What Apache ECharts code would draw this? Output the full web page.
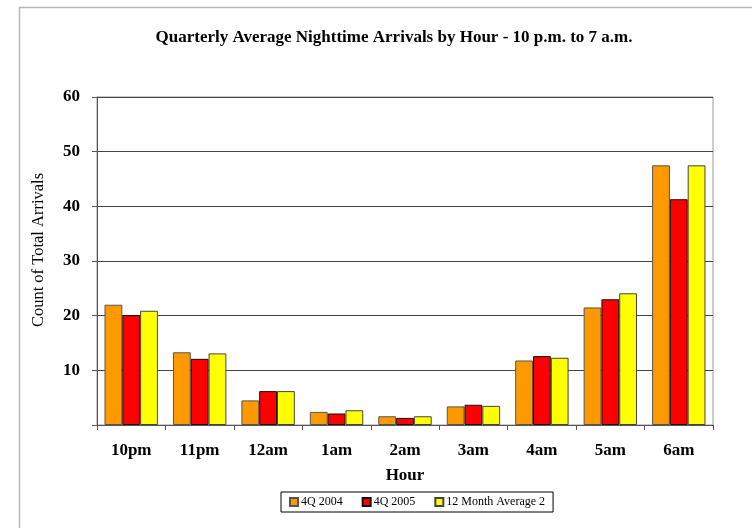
<!DOCTYPE html>
<html>
<head>
<meta charset="utf-8">
<script src="https://cdn.jsdelivr.net/npm/echarts@6/dist/echarts.min.js"></script>
<style>html,body{margin:0;padding:0;background:#fff;}#c{width:752px;height:528px;}</style>
</head>
<body>
<div id="c"></div>
<script>
const categories = ['10pm','11pm','12am','1am','2am','3am','4am','5am','6am'];
const q2004 = [22.0, 13.3, 4.5, 2.4, 1.6, 3.4, 11.8, 21.5, 47.5];
const q2005 = [20.1, 12.1, 6.2, 2.1, 1.3, 3.7, 12.6, 23.0, 41.3];
const avg12 = [20.9, 13.1, 6.2, 2.7, 1.6, 3.5, 12.3, 24.1, 47.5];
const seriesNames = ['4Q 2004', '4Q 2005', '12 Month Average 2'];
const colors = ['#FF9900', '#FF0000', '#FFFF00'];
const serif = '"Liberation Serif", "DejaVu Serif", serif';

const chart = echarts.init(document.getElementById('c'));
const mk = (name, data, color, border) => ({
  name, type: 'bar', data,
  barGap: '0%', barCategoryGap: '22%',
  itemStyle: { color, borderColor: border, borderWidth: 1 },
  emphasis: { disabled: true }
});
chart.setOption({
  animation: false,
  backgroundColor: '#fff',
  graphic: [{
    type: 'rect', left: 17, top: 5, silent: true,
    shape: { width: 760, height: 560 },
    style: { fill: 'none', stroke: '#b8b8b8', lineWidth: 1.5 }
  }],
  title: {
    text: 'Quarterly Average Nighttime Arrivals by Hour - 10 p.m. to 7 a.m.',
    left: 389, top: 24, textAlign: 'center',
    textStyle: { fontFamily: serif, fontSize: 17, fontWeight: 'bold', color: '#000' }
  },
  legend: {
    data: seriesNames,
    left: 281, top: 492,
    itemWidth: 8, itemHeight: 8, itemGap: 19,
    padding: [4, 8, 4, 8],
    borderColor: '#000', borderWidth: 1,
    icon: 'rect',
    textStyle: { fontFamily: serif, fontSize: 12, color: '#000', padding: [0,0,0,-2] }
  },
  grid: {
    left: 97, right: 39, top: 97, bottom: 103,
    show: true, borderColor: '#999', borderWidth: 1, backgroundColor: '#fff'
  },
  xAxis: {
    type: 'category', data: categories,
    name: 'Hour', nameLocation: 'middle', nameGap: 42,
    nameTextStyle: { fontFamily: serif, fontSize: 17, fontWeight: 'bold', color: '#000' },
    axisLine: { lineStyle: { color: '#555', width: 1 } },
    axisTick: { show: true, length: 5, lineStyle: { color: '#555' } },
    axisLabel: { fontFamily: serif, fontSize: 17, fontWeight: 'bold', color: '#000', margin: 17 }
  },
  yAxis: {
    type: 'value', min: 0, max: 60, interval: 10,
    name: 'Count of Total Arrivals', nameLocation: 'middle', nameGap: 50,
    nameTextStyle: { fontFamily: serif, fontSize: 16.5, color: '#000', padding: [0, 0, 0, 22] },
    axisLine: { show: true, lineStyle: { color: '#555', width: 1 } },
    axisTick: { show: true, length: 5, inside: false, lineStyle: { color: '#555' } },
    axisLabel: {
      fontFamily: serif, fontSize: 17, fontWeight: 'bold', color: '#000', margin: 17,
      formatter: v => v === 0 ? '' : String(v)
    },
    splitLine: { show: true, lineStyle: { color: '#444', width: 1 } }
  },
  series: [
    mk(seriesNames[0], q2004, colors[0], '#555'),
    mk(seriesNames[1], q2005, colors[1], '#111'),
    mk(seriesNames[2], avg12, colors[2], '#444')
  ]
});
</script>
</body>
</html>
